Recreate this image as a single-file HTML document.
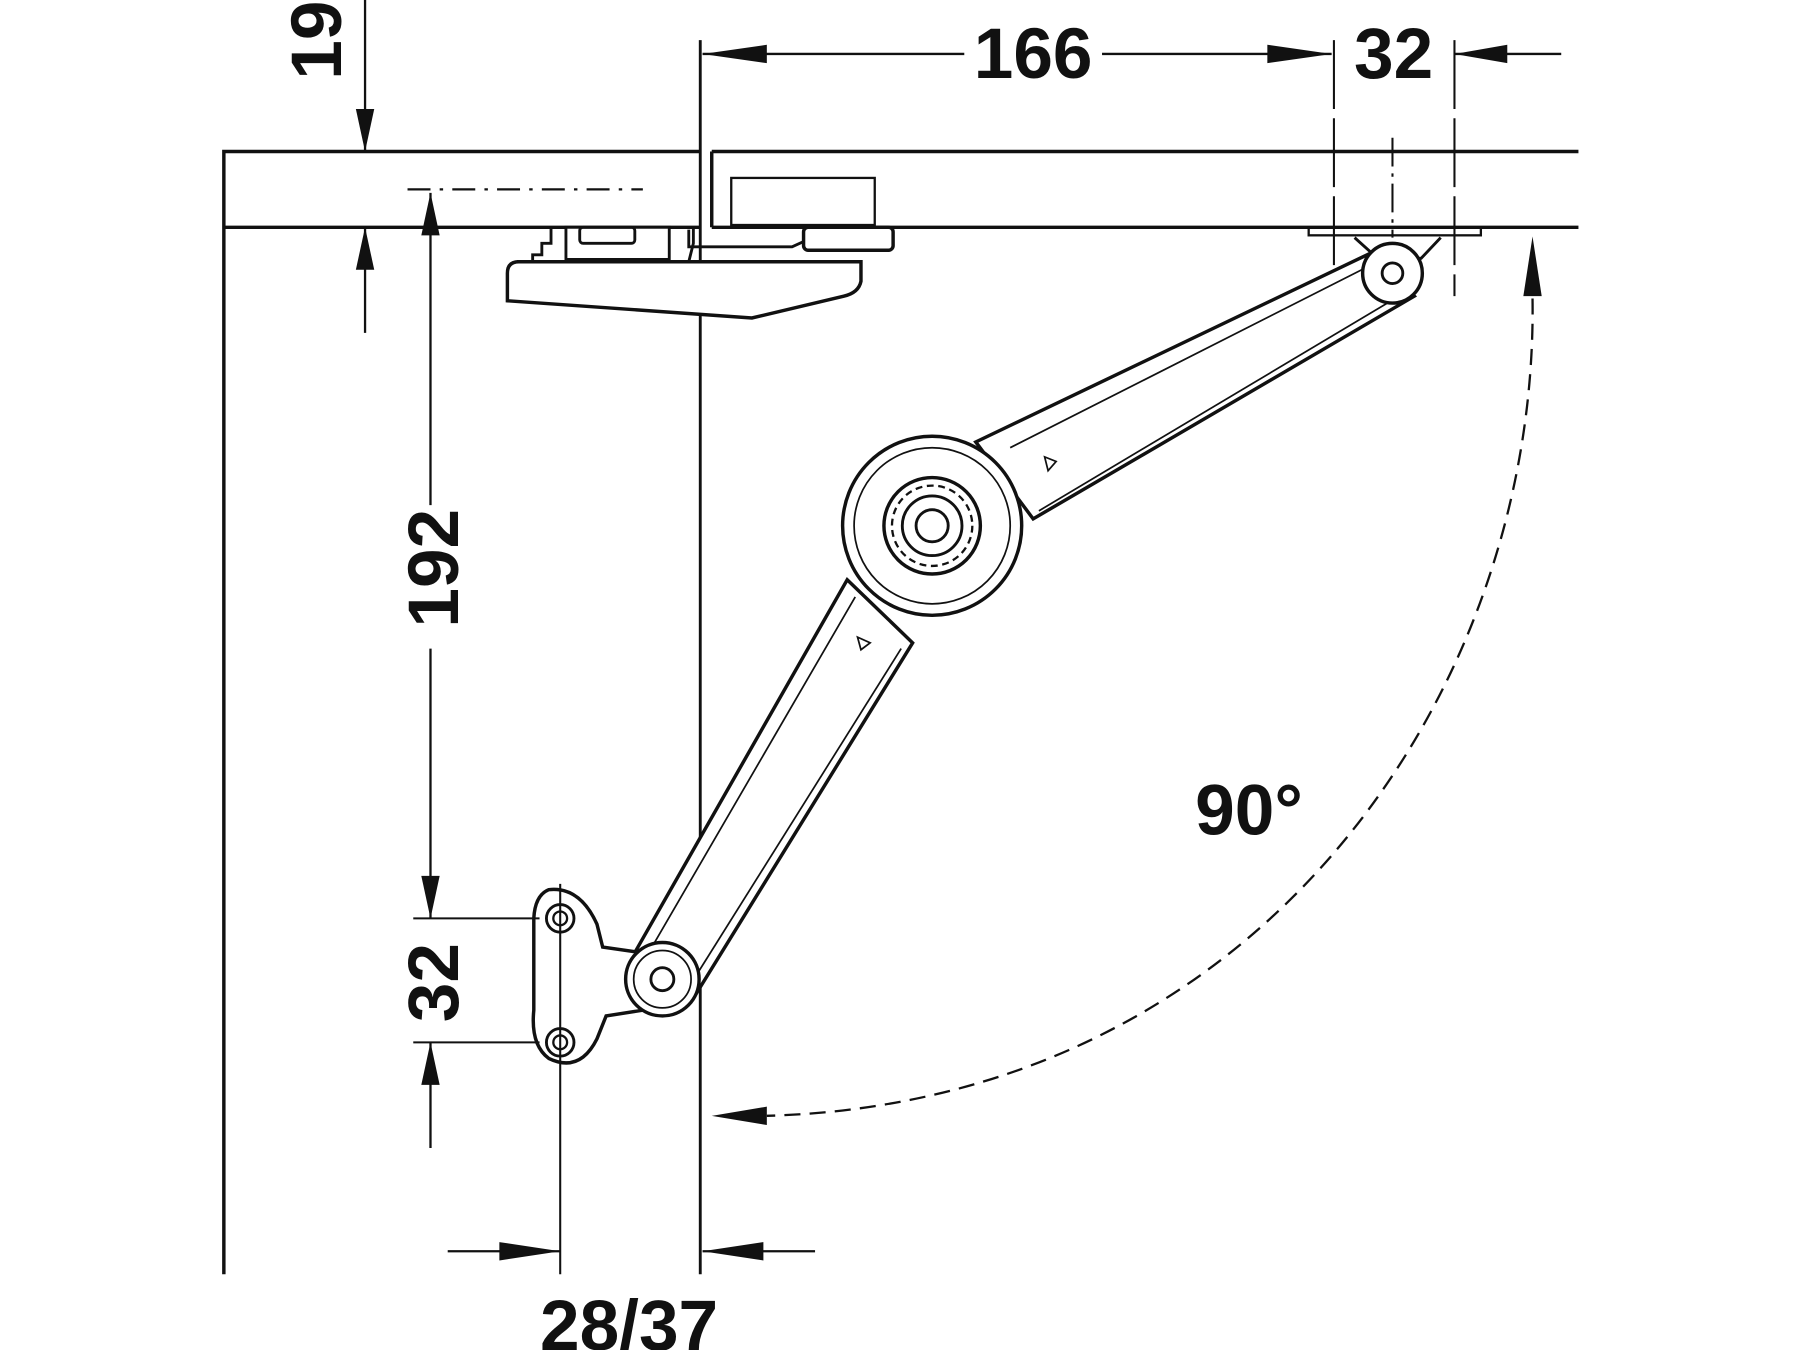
<!DOCTYPE html>
<html><head><meta charset="utf-8"><style>
html,body{margin:0;padding:0;background:#fff;width:1800px;height:1350px;overflow:hidden}
svg{display:block}
text{font-family:"Liberation Sans",Arial,sans-serif;font-weight:bold;fill:#111}
</style></head><body>
<svg width="1800" height="1350" viewBox="0 0 1568 1176" preserveAspectRatio="none" xmlns="http://www.w3.org/2000/svg">
<defs>
<marker id="ah" viewBox="0 0 10 10" refX="10" refY="5" markerWidth="10" markerHeight="10" markerUnits="userSpaceOnUse" orient="auto">
</marker>
</defs>
<g stroke="#111" fill="none" stroke-width="3">
<!-- panel -->
<polyline points="195,1110 195,132 610,132"/>
<line x1="195" y1="198" x2="610" y2="198"/>
<line x1="620" y1="132" x2="1375" y2="132"/>
<line x1="620" y1="198" x2="1375" y2="198"/>
<line x1="620" y1="132" x2="620" y2="198"/>
<line x1="610" y1="35" x2="610" y2="1110" stroke-width="2.5"/>
<rect x="637" y="155" width="125" height="41" stroke-width="2"/>
<line x1="355" y1="165" x2="560" y2="165" stroke-width="2" stroke-dasharray="20,8,3,8"/>
<!-- hinge block -->
<path d="M480,198 V212 H472 V222 H464 V228 H600 L604,212 V198" stroke-width="2.5"/>
<rect x="493" y="198" width="90" height="28" fill="#fff" stroke-width="2.5"/>
<rect x="505" y="198" width="48" height="14" rx="3" stroke-width="2.5"/>
<path d="M600,200 V215 H690 L712,205" stroke-width="2.5"/>
<rect x="700" y="198" width="78" height="20" rx="4" fill="#fff" stroke-width="3"/>
<path d="M450,228 H750 V245 Q748,255 735,258 L655,277 L442,262 V238 Q442,228 452,228 Z" fill="#fff" stroke-width="3"/>
<!-- right mount -->
<rect x="1140" y="198" width="150" height="7" stroke-width="2"/>
<line x1="1162" y1="35" x2="1162" y2="258" stroke-width="1.8" stroke-dasharray="60,8"/>
<line x1="1267" y1="35" x2="1267" y2="258" stroke-width="1.8" stroke-dasharray="60,8"/>
<line x1="1213" y1="120" x2="1213" y2="255" stroke-width="1.8" stroke-dasharray="25,6,3,6"/>
<path d="M1180,207 L1200,225 L1238,225 L1255,207" stroke-width="2.5" fill="#fff"/>
<!-- upper arm -->
<polygon points="1195,220 1232,258 900,452 850,385" fill="#fff" stroke-width="3"/>
<line x1="1200" y1="228" x2="880" y2="390" stroke-width="1.5"/>
<line x1="1222" y1="256" x2="905" y2="445" stroke-width="1.5"/>
<!-- lower arm -->
<polygon points="738,505 795,560 605,868 550,835" fill="#fff" stroke-width="3"/>
<line x1="745" y1="520" x2="565" y2="830" stroke-width="1.5"/>
<line x1="785" y1="565" x2="600" y2="860" stroke-width="1.5"/>
<!-- hub -->
<circle cx="812" cy="458" r="78" fill="#fff" stroke-width="3"/>
<circle cx="812" cy="458" r="68" stroke-width="1.5"/>
<circle cx="812" cy="458" r="42" stroke-width="3"/>
<circle cx="812" cy="458" r="35" stroke-width="2" stroke-dasharray="6,4"/>
<circle cx="812" cy="458" r="26" stroke-width="2.5"/>
<circle cx="812" cy="458" r="14" stroke-width="2.5"/>
<polygon points="910,398 920,402 913,410" stroke-width="1.5"/>
<polygon points="747,555 758,560 750,566" stroke-width="1.5"/>
<!-- upper pivot -->
<circle cx="1213" cy="238" r="26" fill="#fff" stroke-width="3"/>
<circle cx="1213" cy="238" r="9" stroke-width="2.5"/>
<!-- lower bracket -->
<path d="M478,775 Q505,772 520,805 L525,825 L560,830 L560,880 L528,885 L520,905 Q505,935 478,922 Q462,910 465,880 L465,800 Q466,780 478,775 Z" fill="#fff" stroke-width="3"/>
<circle cx="488" cy="800" r="12" stroke-width="2.5"/>
<circle cx="488" cy="800" r="6" stroke-width="2"/>
<circle cx="488" cy="908" r="12" stroke-width="2.5"/>
<circle cx="488" cy="908" r="6" stroke-width="2"/>
<circle cx="577" cy="853" r="32" fill="#fff" stroke-width="3"/>
<circle cx="577" cy="853" r="25" stroke-width="1.5"/>
<circle cx="577" cy="853" r="10" stroke-width="2.5"/>
<line x1="488" y1="770" x2="488" y2="1110" stroke-width="1.8"/>
<!-- dims -->
<line x1="318" y1="0" x2="318" y2="132" stroke-width="2"/>
<line x1="318" y1="198" x2="318" y2="290" stroke-width="2"/>
<line x1="375" y1="168" x2="375" y2="440" stroke-width="2"/>
<line x1="375" y1="565" x2="375" y2="800" stroke-width="2"/>
<line x1="360" y1="800" x2="470" y2="800" stroke-width="1.8"/>
<line x1="360" y1="908" x2="470" y2="908" stroke-width="1.8"/>
<line x1="375" y1="908" x2="375" y2="1000" stroke-width="2"/>
<line x1="612" y1="47" x2="840" y2="47" stroke-width="2"/>
<line x1="960" y1="47" x2="1160" y2="47" stroke-width="2"/>
<line x1="1267" y1="47" x2="1360" y2="47" stroke-width="2"/>
<line x1="390" y1="1090" x2="488" y2="1090" stroke-width="2"/>
<line x1="612" y1="1090" x2="710" y2="1090" stroke-width="2"/>
<path d="M1335,260 C1340,600 1100,960 668,972" stroke-width="2" stroke-dasharray="14,8"/>
</g>
<g fill="#111">
<polygon points="318,132 310,95 326,95"/>
<polygon points="318,198 310,235 326,235"/>
<polygon points="375,168 367,205 383,205"/>
<polygon points="375,800 367,763 383,763"/>
<polygon points="375,908 367,945 383,945"/>
<polygon points="612,47 668,39 668,55"/>
<polygon points="1160,47 1104,39 1104,55"/>
<polygon points="1267,47 1313,39 1313,55"/>
<polygon points="488,1090 435,1082 435,1098"/>
<polygon points="612,1090 665,1082 665,1098"/>
<polygon points="1335,206 1327,258 1343,258"/>
<polygon points="620,972 668,964 668,980"/>
</g>
<text x="900" y="68" font-size="62" text-anchor="middle">166</text>
<text x="1214" y="68" font-size="62" text-anchor="middle">32</text>
<text x="1088" y="727" font-size="62" text-anchor="middle">90°</text>
<text x="548" y="1176" font-size="62" text-anchor="middle">28/37</text>
<text transform="translate(297,35) rotate(-90)" font-size="62" text-anchor="middle">19</text>
<text transform="translate(399,495) rotate(-90)" font-size="62" text-anchor="middle">192</text>
<text transform="translate(399,856) rotate(-90)" font-size="62" text-anchor="middle">32</text>
</svg>
</body></html>
